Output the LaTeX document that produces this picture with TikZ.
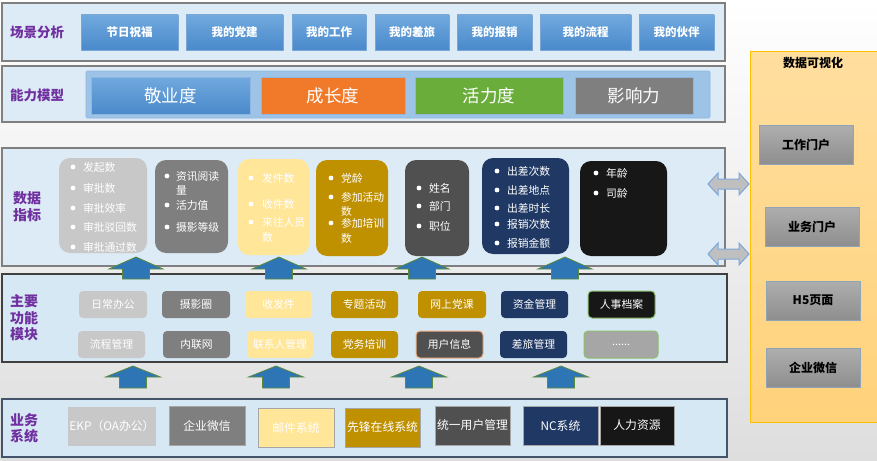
\documentclass[tikz,border=0pt]{standalone}
\usepackage{fontspec}
\setmainfont{Noto Sans CJK SC}
\definecolor{bandgray}{HTML}{7F7F7F}
\definecolor{bandfill}{HTML}{DCEBF5}
\definecolor{bandfilltwo}{HTML}{D6E8F4}
\definecolor{darkline}{HTML}{404040}
\definecolor{slateline}{HTML}{44546A}
\definecolor{ttlpurple}{HTML}{7030A0}
\definecolor{btntop}{HTML}{70A9DE}
\definecolor{btnbot}{HTML}{4A89CB}
\definecolor{btnborder}{HTML}{7BA7D4}
\definecolor{abpanel}{HTML}{9DC3E6}
\definecolor{abborder}{HTML}{8FB6E0}
\definecolor{orangeC}{HTML}{F07A2A}
\definecolor{greenC}{HTML}{6AAD3B}
\definecolor{cA}{HTML}{C8C8C8}
\definecolor{cB}{HTML}{7F7F7F}
\definecolor{cC}{HTML}{FFE699}
\definecolor{cD}{HTML}{BF9000}
\definecolor{cE}{HTML}{505050}
\definecolor{cF}{HTML}{1F3864}
\definecolor{cG}{HTML}{171717}
\definecolor{cH}{HTML}{A6A6A6}
\definecolor{arrblue}{HTML}{2E75B6}
\definecolor{arrgreen}{HTML}{5B8A3C}
\definecolor{dblfill}{HTML}{BFBFBF}
\definecolor{dblborder}{HTML}{7DA7D9}
\definecolor{paneltop}{HTML}{FFDE9E}
\definecolor{panelbot}{HTML}{FFD27B}
\definecolor{panelborder}{HTML}{FFC000}
\definecolor{gtop}{HTML}{AEAEAE}
\definecolor{gbot}{HTML}{8E8E8E}
\definecolor{gborder}{HTML}{8FA4B8}
\definecolor{lgreenB}{HTML}{8DBE6A}
\definecolor{lorangeB}{HTML}{F4B183}
\definecolor{sysborder}{HTML}{A6A6A6}
\newcommand{\bx}[7]{\node[#6, minimum width={(#4)-(#2)}, minimum height={(#5)-(#3)}] (#1) at ({((#2)+(#4))/2},{((#3)+(#5))/2}) {#7};}
\begin{document}
\begin{tikzpicture}[x=1pt,y=-1pt, every node/.style={inner sep=0pt, outer sep=0pt}]
\tikzset{
 band/.style={draw=bandgray, line width=2.5pt, fill=bandfill},
 bandthin/.style={draw=darkline, line width=1.2pt, fill=bandfilltwo},
 ttl/.style={text=ttlpurple, font=\bfseries\fontsize{13.5}{16.5}\selectfont, align=left},
 btn/.style={draw=btnborder, line width=0.8pt, top color=btntop, bottom color=btnbot, text=white, font=\bfseries\fontsize{11.5}{13}\selectfont},
 ab/.style={text=white, font=\fontsize{17.5}{19}\selectfont, draw=abborder, line width=0.8pt},
 ind/.style={rounded corners=11pt},
 itm/.style={text=white, font=\fontsize{10.8}{12}\selectfont, anchor=west},
 mod/.style={rounded corners=4pt, text=white, font=\fontsize{10.8}{12}\selectfont},
 sys/.style={text=white, font=\fontsize{11.8}{13}\selectfont, draw=sysborder, line width=0.8pt},
 upar/.style={fill=arrblue, draw=arrgreen, line width=0.8pt},
 dblar/.style={fill=dblfill, draw=dblborder, line width=1pt},
 vis/.style={draw=gborder, line width=0.8pt, top color=gtop, bottom color=gbot, text=black, font=\bfseries\fontsize{12}{13}\selectfont},
}
% background
\shade[top color=white, bottom color=black!13] (0,0) rectangle (877,460);
\useasboundingbox (0,0) rectangle (877,460);

% ---------- right panel
\bx{panel}{750}{52}{880}{422}{draw=panelborder, line width=1pt, top color=paneltop, bottom color=panelbot}{}
\node[font=\bfseries\fontsize{12}{13}\selectfont] (pt) at (813,63) {数据可视化};
\bx{v1}{759}{125}{853}{164}{vis}{工作门户}
\bx{v2}{765}{207}{859}{246}{vis}{业务门户}
\bx{v3}{766}{281}{860}{320}{vis}{H5页面}
\bx{v4}{766}{348}{860}{387}{vis}{企业微信}

% ---------- band 1
\bx{b1}{2}{3}{725}{61}{band}{}
\node[ttl] (t1) at (37,32) {场景分析};
\bx{s1}{81}{15}{178}{50}{btn}{节日祝福}
\bx{s2}{186}{15}{283}{50}{btn}{我的党建}
\bx{s3}{292}{15}{366}{50}{btn}{我的工作}
\bx{s4}{375}{15}{449}{50}{btn}{我的差旅}
\bx{s5}{457}{15}{532}{50}{btn}{我的报销}
\bx{s6}{540}{15}{631}{50}{btn}{我的流程}
\bx{s7}{639}{15}{714}{50}{btn}{我的伙伴}

% ---------- band 2
\bx{b2}{2}{66}{725}{122}{band}{}
\node[ttl] (t2) at (37,95) {能力模型};
\bx{abp}{86}{71}{710}{118}{fill=abpanel, draw=abborder, line width=0.8pt, rounded corners=1.5pt}{}
\bx{a1}{91}{77}{250}{114}{ab, top color=btntop, bottom color=btnbot}{敬业度}
\bx{a2}{261}{77}{405}{114}{ab, fill=orangeC}{成长度}
\bx{a3}{415}{77}{563}{114}{ab, fill=greenC}{活力度}
\bx{a4}{575}{77}{693}{114}{ab, fill=cB}{影响力}

% ---------- band 3
\bx{b3}{2}{148}{725}{266}{band}{}
\node[ttl, font=\bfseries\fontsize{14}{17}\selectfont] (t3) at (27,207) {数据\\指标};
\bx{d1}{59}{158}{147}{253}{ind, fill=cA}{}
\bx{d2}{155}{160}{228}{253}{ind, fill=cB}{}
\bx{d3}{238}{159}{309}{255}{ind, fill=cC}{}
\bx{d4}{316}{160}{388}{256}{ind, fill=cD}{}
\bx{d5}{405}{160}{469}{256}{ind, fill=cE}{}
\bx{d6}{482}{158}{569}{254}{ind, fill=cF}{}
\bx{d7}{580}{161}{667}{256}{ind, fill=cG}{}
\foreach \y/\t [count=\k] in {167/发起数,188/审批数,208/审批效率,227/审批驳回数,247/审批通过数}
 {\fill[white] (73,\y) circle (2.4); \node[itm] (d1i\k) at (83,\y) {\t};}
\foreach \y/\t [count=\k] in {176/资讯阅读,205/活力值,227/摄影等级}
 {\fill[white] (167,\y) circle (2.4); \node[itm] (d2i\k) at (176,\y) {\t};}
\node[itm] (d2c) at (176,190) {量};
\foreach \y/\t [count=\k] in {178/发件数,204/收件数,222/来往人员}
 {\fill[white] (251,\y) circle (2.4); \node[itm] (d3i\k) at (262,\y) {\t};}
\node[itm] (d3c) at (262,237) {数};
\foreach \y/\t [count=\k] in {178/党龄,197/参加活动,223/参加培训}
 {\fill[white] (331,\y) circle (2.4); \node[itm] (d4i\k) at (341,\y) {\t};}
\node[itm] (d4c1) at (341,211) {数};
\node[itm] (d4c2) at (341,238) {数};
\foreach \y/\t [count=\k] in {188/姓名,206/部门,226/职位}
 {\fill[white] (419,\y) circle (2.4); \node[itm] (d5i\k) at (429,\y) {\t};}
\foreach \y/\t [count=\k] in {171/出差次数,190/出差地点,208/出差时长,224/报销次数,243/报销金额}
 {\fill[white] (497,\y) circle (2.4); \node[itm] (d6i\k) at (507,\y) {\t};}
\foreach \y/\t [count=\k] in {173/年龄,193/司龄}
 {\fill[white] (596,\y) circle (2.4); \node[itm] (d7i\k) at (606,\y) {\t};}

% double arrows to panel
\coordinate (da1) at (729,184);
\coordinate (da2) at (729,254);
\foreach \c in {da1,da2}
 \draw[dblar] ([xshift=-21pt]\c) -- ++(10,-11) -- ++(0,6) -- ++(21,0) -- ++(0,-6) -- ++(10,11) -- ++(-10,11) -- ++(0,-6) -- ++(-21,0) -- ++(0,6) -- cycle;

% ---------- band 4
\bx{b4}{2}{274}{727}{362}{bandthin}{}
\node[ttl, font=\bfseries\fontsize{14}{16.5}\selectfont] (t4) at (24,318) {主要\\功能\\模块};
\bx{m1}{79}{291}{147}{318}{mod, fill=cA}{日常办公}
\bx{m2}{162}{291}{230}{318}{mod, fill=cB}{摄影圈}
\bx{m3}{245}{291}{312}{318}{mod, fill=cC}{收发件}
\bx{m4}{331}{291}{398}{318}{mod, fill=cD}{专题活动}
\bx{m5}{418}{291}{486}{318}{mod, fill=cD}{网上党课}
\bx{m6}{501}{291}{568}{318}{mod, fill=cF}{资金管理}
\bx{m7}{588}{291}{655}{318}{mod, fill=cG, draw=lgreenB, line width=1pt}{人事档案}
\bx{n1}{78}{331}{145}{358}{mod, fill=cA}{流程管理}
\bx{n2}{163}{331}{230}{358}{mod, fill=cB}{内联网}
\bx{n3}{247}{331}{313}{358}{mod, fill=cC}{联系人管理}
\bx{n4}{331}{331}{398}{358}{mod, fill=cD}{党务培训}
\bx{n5}{416}{331}{483}{358}{mod, fill=cE, draw=lorangeB, line width=1pt}{用户信息}
\bx{n6}{500}{331}{567}{358}{mod, fill=cF}{差旅管理}
\bx{n7}{584}{331}{658}{358}{mod, fill=cH, draw=lgreenB, line width=1pt}{......}

% up arrows band4 -> band3
\foreach \cx [count=\k] in {136,279,422,565} {
 \coordinate (ua\k) at (\cx,257);
 \draw[upar] (ua\k) -- ++(27,12) -- ++(-13.5,0) -- ++(0,10) -- ++(-27,0) -- ++(0,-10) -- ++(-13.5,0) -- cycle;
}

% ---------- band 5
\bx{b5}{2}{399}{727}{457}{draw=slateline, line width=1.2pt, fill=bandfilltwo}{}
\node[ttl, font=\bfseries\fontsize{14}{15.5}\selectfont] (t5) at (24,428) {业务\\系统};
\bx{y1}{68}{407}{156}{446}{sys, fill=cA, draw=none}{EKP（OA办公）}
\bx{y2}{169}{406}{245}{445}{sys, fill=cB}{企业微信}
\bx{y3}{258}{408}{334}{447}{sys, fill=cC}{邮件系统}
\bx{y4}{345}{408}{420}{447}{sys, fill=cD}{先锋在线系统}
\bx{y5}{435}{406}{510}{445}{sys, fill=cE}{统一用户管理}
\bx{y6}{523}{406}{598}{445}{sys, fill=cF}{NC系统}
\bx{y7}{600}{406}{674}{445}{sys, fill=cG}{人力资源}

% up arrows band5 -> band4
\foreach \cx [count=\k] in {133,276,419,561} {
 \coordinate (ub\k) at (\cx,366);
 \draw[upar] (ub\k) -- ++(27.5,11) -- ++(-14,0) -- ++(0,11) -- ++(-27,0) -- ++(0,-11) -- ++(-14,0) -- cycle;
}
\end{tikzpicture}
\end{document}
